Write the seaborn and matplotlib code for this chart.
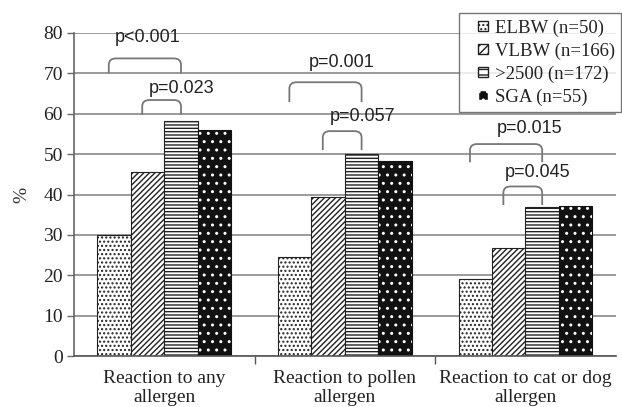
import matplotlib
matplotlib.use("Agg")
import matplotlib.pyplot as plt
from matplotlib.path import Path
from matplotlib.patches import PathPatch, Patch, Rectangle
from matplotlib.legend_handler import HandlerPatch
import numpy as np
import pandas as pd
import seaborn as sns

categories = ["Reaction to any\nallergen", "Reaction to pollen\nallergen", "Reaction to cat or dog\nallergen"]
groups = ["ELBW (n=50)", "VLBW (n=166)", ">2500 (n=172)", "SGA (n=55)"]
elbw = [30.0, 24.5, 19.0]
vlbw = [45.5, 39.5, 26.7]
term = [58.2, 50.0, 36.9]
sga = [56.0, 48.3, 37.1]

# significance brackets: category, left group, right group, p-label
p_cat = [0, 0, 1, 1, 2, 2]
p_left = [0, 1, 0, 1, 0, 1]
p_right = [2, 2, 2, 2, 2, 2]
p_text = ["p<0.001", "p=0.023", "p=0.001", "p=0.057", "p=0.015", "p=0.045"]

# bracket and label placement
bracket_top = [73.7, 63.4, 67.8, 55.7, 52.5, 42.0]
bracket_bottom = [70.0, 59.7, 62.9, 51.0, 48.0, 37.4]
label_x = [-0.090, 0.098, 0.983, 1.099, 2.024, 2.068]
label_y = [79.0, 66.3, 72.8, 59.2, 56.4, 45.5]

df = pd.DataFrame({
    "category": np.repeat(categories, len(groups)),
    "group": groups * len(categories),
    "value": [v for trio in zip(elbw, vlbw, term, sga) for v in trio],
})

sns.set_style("white")
serif = "Liberation Serif"
sans = "Liberation Sans"
plt.rcParams["hatch.linewidth"] = 1.0

fig = plt.figure(figsize=(6.22, 4.07), dpi=100)
ax = fig.add_axes([0.119, 0.125, 0.871, 0.794])

sns.barplot(data=df, x="category", y="value", hue="group", order=categories,
            hue_order=groups, width=0.74, ax=ax, legend=False, errorbar=None,
            saturation=1)

hatches = ["....", "//////", "-----", None]
for gi, cont in enumerate(ax.containers):
    for bar in cont:
        if gi < 3:
            bar.set_facecolor("white")
            bar.set_edgecolor("#222222")
            bar.set_hatch(hatches[gi])
            bar.set_linewidth(0.8)
        else:
            bar.set_facecolor("#111111")
            bar.set_edgecolor("white")
            bar.set_hatch("..")
            bar.set_linewidth(0)
            ax.add_patch(Rectangle(bar.get_xy(), bar.get_width(), bar.get_height(),
                                   fill=False, edgecolor="#111111", lw=0.8,
                                   zorder=bar.get_zorder() + 0.1))

ax.set_ylim(0, 80)
ax.set_xlim(-0.5, 2.5)
ax.set_yticks(range(0, 81, 10))
ax.yaxis.grid(True, color="#8a8a8a", lw=1.2)
ax.set_axisbelow(True)
for s in ["top", "right"]:
    ax.spines[s].set_visible(False)
ax.spines["left"].set_color("#666666")
ax.spines["left"].set_linewidth(1.2)
ax.spines["bottom"].set_color("#555555")
ax.spines["bottom"].set_linewidth(1.2)

ax.tick_params(axis="y", which="both", left=True, length=5, width=1, color="#666666",
               labelsize=14, pad=3)
ax.set_xticks(range(len(categories)))
ax.set_xticklabels(categories, fontsize=14, family=serif, linespacing=1.12)
ax.tick_params(axis="x", length=0, pad=10)
for lab in ax.get_yticklabels():
    lab.set_family(serif)
    lab.set_color("#222222")
for lab in ax.get_xticklabels():
    lab.set_color("#222222")
# separators between categories
ax.set_xticks([0.5, 1.5], minor=True)
ax.tick_params(axis="x", which="minor", bottom=True, length=6, width=1, color="#555555")

ax.set_xlabel("")
ax.set_ylabel("%", family=serif, fontsize=14, labelpad=9, color="#333333")

# brackets with rounded shoulders
rx, ry = 0.04, 1.6
for c, l, r, t, yt, yb, lx, ly in zip(p_cat, p_left, p_right, p_text, bracket_top,
                                      bracket_bottom, label_x, label_y):
    bl = ax.containers[l].patches[c]
    br = ax.containers[r].patches[c]
    x0 = bl.get_x() + bl.get_width() / 2 - 0.03
    x1 = br.get_x() + br.get_width() / 2
    verts = [(x0, yb), (x0, yt - ry), (x0, yt), (x0 + rx, yt), (x1 - rx, yt),
             (x1, yt), (x1, yt - ry), (x1, yb)]
    codes = [Path.MOVETO, Path.LINETO, Path.CURVE3, Path.CURVE3, Path.LINETO,
             Path.CURVE3, Path.CURVE3, Path.LINETO]
    ax.add_patch(PathPatch(Path(verts, codes), fill=False, edgecolor="#777777",
                           lw=1.3, zorder=5))
    ax.text(lx, ly, t, ha="center", va="center", family=sans, fontsize=13,
            color="#222222", zorder=6)


def small_square(legend, orig_handle, xdescent, ydescent, width, height, fontsize):
    s = 0.55 * fontsize
    return Rectangle((width - s - xdescent, (height - s) / 2 - ydescent), s, s)


handles = [Patch(facecolor="white", edgecolor="#222222", hatch="...."),
           Patch(facecolor="white", edgecolor="#222222", hatch="////"),
           Patch(facecolor="white", edgecolor="#222222", hatch="---"),
           Patch(facecolor="#111111", edgecolor="white", hatch="..")]
leg = fig.legend(handles, groups, loc="upper right", bbox_to_anchor=(0.999, 0.968),
                 bbox_transform=fig.transFigure, prop={"family": serif, "size": 13.5},
                 frameon=True, fancybox=False, handlelength=1.2, handleheight=0.7,
                 handletextpad=0.35, borderpad=0.35, labelspacing=0.3, borderaxespad=0,
                 handler_map={Patch: HandlerPatch(patch_func=small_square)})
leg.get_frame().set_edgecolor("#555555")
leg.get_frame().set_linewidth(1.0)
for txt in leg.get_texts():
    txt.set_color("#222222")

fig.savefig("out.png", dpi=100)
